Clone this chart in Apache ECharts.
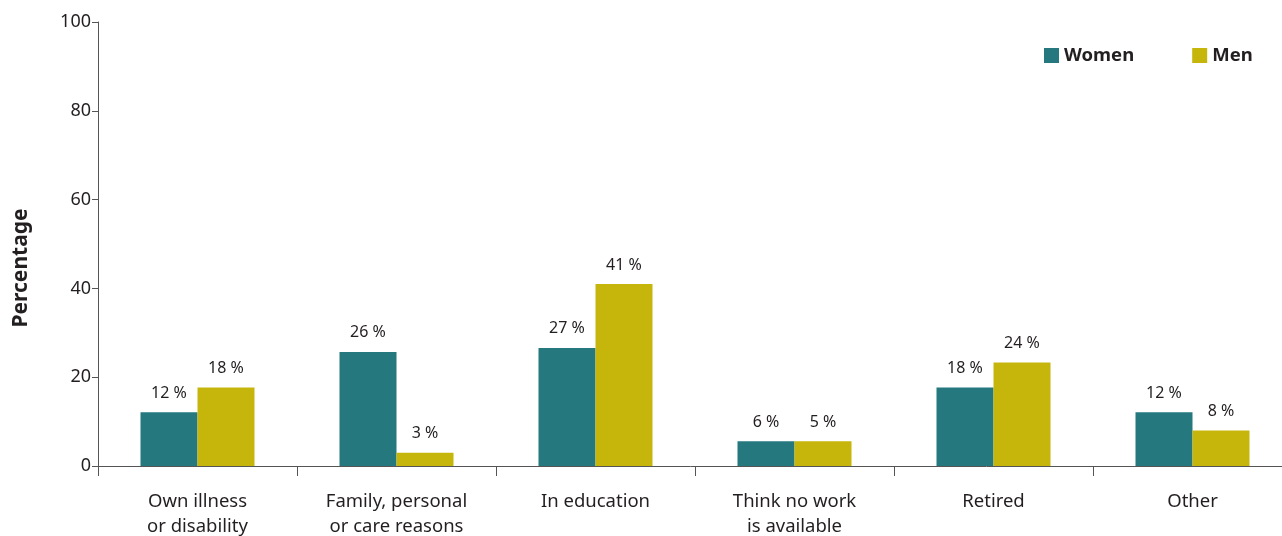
<!DOCTYPE html>
<html><head><meta charset="utf-8">
<script src="https://cdn.jsdelivr.net/npm/echarts@6/dist/echarts.min.js"></script>
<style>html,body{margin:0;padding:0;background:#fff}#c{width:1282px;height:536px}</style>
</head><body><div id="c"></div>
<script>
var categories = ['Own illness\nor disability', 'Family, personal\nor care reasons', 'In education', 'Think no work\nis available', 'Retired', 'Other'];
var women = [12.1, 25.7, 26.6, 5.6, 17.7, 12.1];
var men = [17.7, 3.0, 41.0, 5.6, 23.3, 8.0];
var womenLabels = ['12 %', '26 %', '27 %', '6 %', '18 %', '12 %'];
var menLabels = ['18 %', '3 %', '41 %', '5 %', '24 %', '8 %'];
var yTicks = [0, 20, 40, 60, 80, 100];

var FONT = 'Noto Sans';
var chart = echarts.init(document.getElementById('c'));
chart.setOption({
  animation: false,
  textStyle: {fontFamily: FONT},
  legend: {
    data: ['Women', 'Men'], left: 1039, top: 41, itemWidth: 15, itemHeight: 15, itemGap: 58,
    icon: 'rect',
    textStyle: {fontFamily: FONT, fontSize: 18.5, fontWeight: 'bold', color: '#231f20'}
  },
  grid: {left: 98, width: 1194, top: 22, height: 444, containLabel: false, outerBoundsMode: 'none'},
  xAxis: {
    type: 'category', data: categories,
    axisLine: {lineStyle: {color: '#555', width: 1}},
    axisTick: {show: true, length: 10, lineStyle: {color: '#555'}},
    axisLabel: {color: '#231f20', fontSize: 18.5, lineHeight: 25, margin: 23, fontFamily: FONT}
  },
  yAxis: {
    type: 'value', min: yTicks[0], max: yTicks[yTicks.length - 1], interval: 20,
    name: 'Percentage', nameLocation: 'middle', nameGap: 66,
    nameTextStyle: {fontFamily: FONT, fontSize: 21, fontWeight: 'bold', color: '#231f20', padding: [0, 48, 0, 0]},
    axisLine: {show: true, lineStyle: {color: '#555', width: 1}},
    axisTick: {show: true, length: 6, lineStyle: {color: '#555'}},
    splitLine: {show: false},
    axisLabel: {color: '#231f20', fontSize: 18, margin: 7, fontFamily: FONT}
  },
  series: [
    {name: 'Women', type: 'bar', data: women, barWidth: 57, barGap: '0%',
     itemStyle: {color: '#24787e'},
     label: {show: true, position: 'top', distance: 11, fontSize: 16, color: '#231f20', fontFamily: FONT,
       formatter: function (p) { return womenLabels[p.dataIndex]; }}},
    {name: 'Men', type: 'bar', data: men, barWidth: 57, barGap: '0%',
     itemStyle: {color: '#c6b50a'},
     label: {show: true, position: 'top', distance: 11, fontSize: 16, color: '#231f20', fontFamily: FONT,
       formatter: function (p) { return menLabels[p.dataIndex]; }}}
  ]
});
</script></body></html>
